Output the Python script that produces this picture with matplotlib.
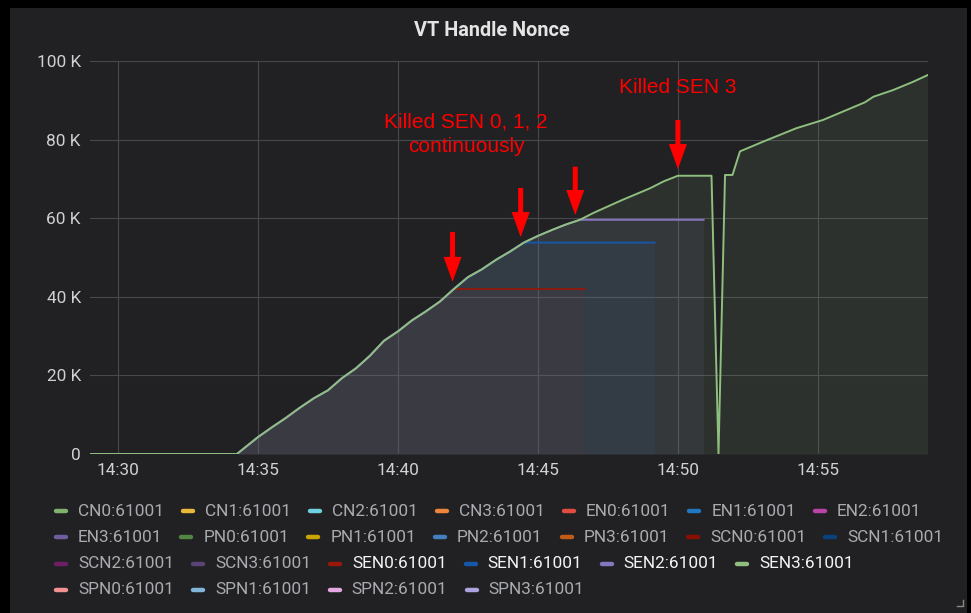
# VT Handle Nonce - grafana panel redrawn with matplotlib
import pandas as pd
import matplotlib
matplotlib.use('Agg')
import matplotlib.pyplot as plt
import matplotlib.dates as mdates
from matplotlib.lines import Line2D
from matplotlib.patches import Rectangle
from matplotlib.ticker import FuncFormatter, MultipleLocator

plt.rcParams['font.family'] = ['Roboto', 'DejaVu Sans']

DAY = '2021-01-01 '

# shared nonce curve (SEN3 keeps going, the others stop when killed)
base_times = ['14:29:00', '14:34:15', '14:35:00', '14:35:30', '14:36:00', '14:36:30',
              '14:37:00', '14:37:30', '14:38:00', '14:38:30', '14:39:00', '14:39:30',
              '14:40:00', '14:40:30', '14:41:00', '14:41:30', '14:42:00', '14:42:30',
              '14:43:00', '14:43:30', '14:44:00', '14:44:30', '14:45:00', '14:45:30',
              '14:46:00', '14:46:30', '14:47:00', '14:47:30', '14:48:00', '14:48:30',
              '14:49:00', '14:49:30', '14:50:00', '14:51:12', '14:51:27', '14:51:41',
              '14:51:57', '14:52:13', '14:53:03', '14:54:14', '14:55:11', '14:56:01',
              '14:56:41', '14:56:59', '14:57:41', '14:58:24', '14:58:55']
base_values = [0, 0, 4300, 6800, 9200, 11800,
               14200, 16200, 19300, 21800, 25000, 28800,
               31200, 34000, 36300, 38800, 42000, 45000,
               47000, 49400, 51500, 53800, 55500, 57000,
               58400, 59600, 61400, 63000, 64600, 66100,
               67600, 69400, 70800, 70800, 0, 71000,
               71000, 77000, 79500, 82900, 85000, 87500,
               89500, 90900, 92600, 94700, 96400]

# killed series: last live sample, then value held until this time
sen_names = ['SEN0:61001', 'SEN1:61001', 'SEN2:61001', 'SEN3:61001']
sen_colors = ['#8c1a10', '#1657a8', '#8676c0', '#8fbf7f']
sen_kill = ['14:42:00', '14:44:30', '14:46:30', None]
sen_hold_until = ['14:46:40', '14:49:10', '14:50:55', None]

legend_names = ['CN0:61001', 'CN1:61001', 'CN2:61001', 'CN3:61001', 'EN0:61001', 'EN1:61001',
                'EN2:61001', 'EN3:61001', 'PN0:61001', 'PN1:61001', 'PN2:61001', 'PN3:61001',
                'SCN0:61001', 'SCN1:61001', 'SCN2:61001', 'SCN3:61001', 'SEN0:61001',
                'SEN1:61001', 'SEN2:61001', 'SEN3:61001', 'SPN0:61001', 'SPN1:61001',
                'SPN2:61001', 'SPN3:61001']
legend_colors = ['#7EB26D', '#EAB839', '#6ED0E0', '#EF843C', '#E24D42', '#1F78C1',
                 '#BA43A6', '#705DA0', '#508642', '#CCA300', '#447EBC', '#C15C17',
                 '#890F02', '#0A437C', '#6D1F62', '#584477', '#99170b',
                 '#1657a8', '#8676c0', '#8fbf7f', '#F29191', '#82B5D8',
                 '#E5A8E2', '#AEA2E0']

# arrows: (time, tail value, tip value)
arrows = [('14:41:57', 56500, 43800), ('14:44:23', 67700, 55200),
          ('14:46:20', 73100, 60800), ('14:50:00', 85000, 72500)]

W, H = 971, 613
fig = plt.figure(figsize=(W / 100, H / 100), dpi=100, facecolor='black')
fig.add_artist(Rectangle((10 / W, 0), 957 / W, 605 / H, transform=fig.transFigure,
                         facecolor='#212124', edgecolor='none', zorder=-10))

ax = fig.add_axes([90 / W, 1 - 454 / H, (928 - 90) / W, (454 - 61) / H])
ax.set_facecolor('none')

bt = pd.to_datetime([DAY + t for t in base_times])
bv = pd.Series(base_values, index=bt)

for name, col, kill, until in zip(sen_names, sen_colors, sen_kill, sen_hold_until):
    if kill is None:
        s = bv
    else:
        s = bv[:pd.Timestamp(DAY + kill)]
        s = pd.concat([s, pd.Series([s.iloc[-1]], index=[pd.Timestamp(DAY + until)])])
    ax.fill_between(s.index, s.values, 0, color=col, alpha=0.1, linewidth=0)
    ax.plot(s.index, s.values, color=col, lw=1.4)

ax.set_xlim(pd.Timestamp(DAY + '14:29:00'), pd.Timestamp(DAY + '14:58:56'))
ax.set_ylim(0, 100000)
ax.xaxis.set_major_locator(mdates.MinuteLocator(byminute=range(0, 60, 5)))
ax.xaxis.set_major_formatter(mdates.DateFormatter('%H:%M'))
ax.yaxis.set_major_locator(MultipleLocator(20000))
ax.yaxis.set_major_formatter(FuncFormatter(lambda v, p: '0' if v == 0 else f'{int(v / 1000)} K'))
ax.grid(True, color='#47484b', lw=0.8)
ax.set_axisbelow(True)
for sp in ax.spines.values():
    sp.set_visible(False)
ax.tick_params(colors='#d0d1d3', labelsize=12.4, length=0, pad=6.5)

# annotations
for t, tail, tip in arrows:
    ts = pd.Timestamp(DAY + t)
    ax.annotate('', xy=(ts, tip), xytext=(ts, tail),
                arrowprops=dict(facecolor='red', edgecolor='none', width=3.6,
                                headwidth=13, headlength=18, shrink=0))
ax.text(pd.Timestamp(DAY + '14:42:26'), 83200, 'Killed SEN 0, 1, 2', color='red',
        ha='center', va='baseline', fontsize=15, family='Liberation Sans')
ax.text(pd.Timestamp(DAY + '14:42:26'), 76900, 'continuously', color='red',
        ha='center', va='baseline', fontsize=15, family='Liberation Sans')
ax.text(pd.Timestamp(DAY + '14:50:00'), 91900, 'Killed SEN 3', color='red',
        ha='center', va='baseline', fontsize=15, family='Liberation Sans')

fig.text(492 / W, 1 - 31 / H, 'VT Handle Nonce', ha='center', va='center',
         fontsize=14.3, weight='semibold', color='#e4e4e4')

# legend, laid out like grafana's flex rows
r = fig.canvas.get_renderer()
x0, limit = 54, 962
x, row = x0, 0
for name, col in zip(legend_names, legend_colors):
    active = name in sen_names
    ty = 1 - (511 + 26.3 * row) / H
    t = fig.text((x + 24) / W, ty, name, ha='left', va='center', fontsize=12.45,
                 color='#f4f4f4' if active else '#a9abaf')
    w = t.get_window_extent(r).width
    if x + 24 + w > limit and x > x0:
        row += 1
        x = x0
        ty = 1 - (511 + 26.3 * row) / H
        t.set_position(((x + 24) / W, ty))
    fig.add_artist(Line2D([(x + 2) / W, (x + 12) / W], [ty, ty], color=col, lw=3.2,
                          solid_capstyle='round'))
    x += 24 + w + 17

# resize corner
fig.add_artist(Line2D([957 / W, 963 / W, 963 / W], [1 - 606 / H, 1 - 606 / H, 1 - 600 / H],
                      color='#8a8a8a', lw=1))

fig.savefig('out.png', dpi=100, facecolor='black')
